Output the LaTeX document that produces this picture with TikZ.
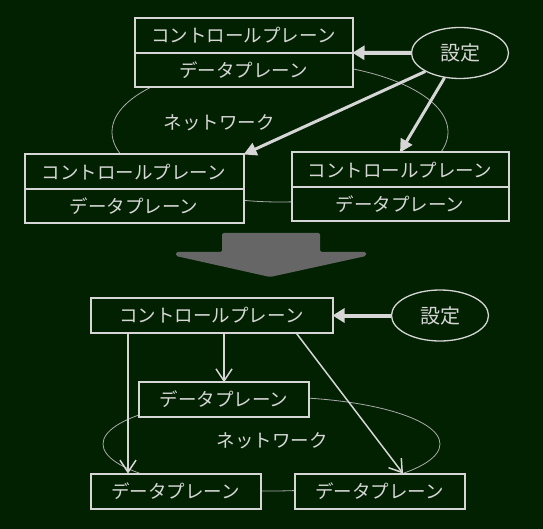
\documentclass[tikz,border=0pt]{standalone}
\usepackage{fontspec}
\newfontfamily\jpfont{Noto Sans CJK JP}
\usetikzlibrary{arrows.meta,shapes.geometric}
\definecolor{board}{RGB}{1,33,1}
\definecolor{chalk}{RGB}{214,214,214}
\definecolor{netline}{RGB}{170,170,170}
\definecolor{bigarrow}{RGB}{102,102,102}
\tikzset{
  plane/.style={draw=chalk,line width=1pt,fill=board,text=chalk,inner sep=0pt,
    font=\jpfont\fontsize{18.5}{21}\selectfont},
  boxline/.style={draw=chalk,line width=2pt},
  setting/.style={ellipse,draw=chalk,line width=1.3pt,fill=board,text=chalk,
    minimum width=97pt,minimum height=51pt,inner sep=0pt,
    font=\jpfont\fontsize{20}{23}\selectfont},
  network/.style={draw=netline,line width=0.8pt},
  thickarrow/.style={draw=chalk,line width=4pt,-{Triangle[length=12pt,width=14pt]}},
  diagarrow/.style={draw=chalk,line width=3pt,-{Triangle[length=13pt,width=13pt]}},
  thinarrow/.style={draw=chalk,line width=1.5pt,-{Straight Barb[length=12pt,width=16pt]}}
}
\begin{document}
\begin{tikzpicture}[x=1pt,y=-1pt]
  \fill[board] (0,0) rectangle (543,529);
  \useasboundingbox (0,0) rectangle (543,529);
  % before
  \draw[network] (280,132) ellipse [x radius=168,y radius=70];
  \node[text=chalk,font=\jpfont\fontsize{18.5}{21}\selectfont] (netA) at (219,123) {ネットワーク};
  \node[plane,minimum width=217pt,minimum height=33.5pt] (ctrlA) at (243.5,35.5) {コントロールプレーン};
  \node[plane,minimum width=217pt,minimum height=33.5pt,anchor=north] (dataA) at (ctrlA.south) {データプレーン};
  \draw[boxline] (ctrlA.north west) rectangle (dataA.south east);
  \node[plane,minimum width=218pt,minimum height=33.5pt] (ctrlL) at (134,171.75) {コントロールプレーン};
  \node[plane,minimum width=218pt,minimum height=33.5pt,anchor=north] (dataL) at (ctrlL.south) {データプレーン};
  \draw[boxline] (ctrlL.north west) rectangle (dataL.south east);
  \node[plane,minimum width=216pt,minimum height=33.5pt] (ctrlR) at (400,169.75) {コントロールプレーン};
  \node[plane,minimum width=216pt,minimum height=33.5pt,anchor=north] (dataR) at (ctrlR.south) {データプレーン};
  \draw[boxline] (ctrlR.north west) rectangle (dataR.south east);
  \node[setting] (setA) at (460,53) {設定};
  \draw[thickarrow] (setA.west) -- (ctrlA.south east);
  \draw[diagarrow] (setA.south west) -- (ctrlL.north east);
  \draw[diagarrow] (setA.238) -- (ctrlR.north);
  % change
  \fill[bigarrow,rounded corners=1.5pt] (222,233) -- (320,233) -- (320,252) -- (366,252)
    -- (366,256) -- (270,277) -- (176,256) -- (176,252) -- (222,252) -- cycle;
  % after
  \draw[network] (271.5,444) ellipse [x radius=168.5,y radius=47];
  \node[text=chalk,font=\jpfont\fontsize{18.5}{21}\selectfont] (netB) at (272,441) {ネットワーク};
  \node[plane,minimum width=241pt,minimum height=33.5pt] (ctrlB) at (211.5,315.5) {コントロールプレーン};
  \draw[boxline] (ctrlB.north west) rectangle (ctrlB.south east);
  \node[plane,minimum width=168.5pt,minimum height=33.5pt] (dataM) at (224,399.5) {データプレーン};
  \draw[boxline] (dataM.north west) rectangle (dataM.south east);
  \node[plane,minimum width=169pt,minimum height=34pt] (dataBL) at (175.5,491) {データプレーン};
  \draw[boxline] (dataBL.north west) rectangle (dataBL.south east);
  \node[plane,minimum width=169pt,minimum height=34pt] (dataBR) at (379.5,491) {データプレーン};
  \draw[boxline] (dataBR.north west) rectangle (dataBR.south east);
  \node[setting] (setB) at (440,315.5) {設定};
  \draw[thickarrow] (setB.west) -- (ctrlB.east);
  \draw[thinarrow] (ctrlB.south -| 128,0) -- (dataBL.north -| 128,0);
  \draw[thinarrow] (ctrlB.south -| dataM.north) -- (dataM.north);
  \draw[thinarrow] (ctrlB.south -| 296,0) -- (dataBR.north -| 403,0);
\end{tikzpicture}
\end{document}
